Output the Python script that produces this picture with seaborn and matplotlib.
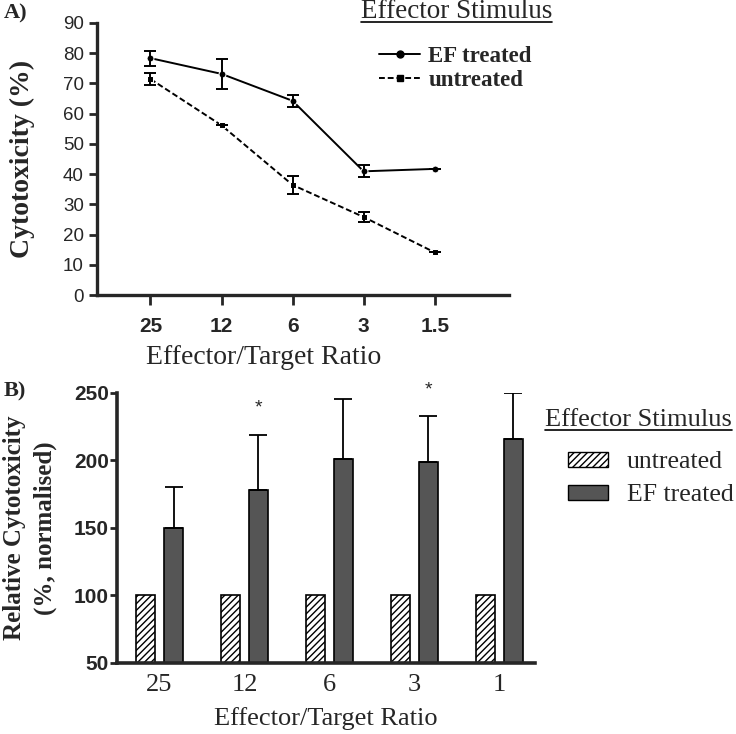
import numpy as np
import pandas as pd
import seaborn as sns
import matplotlib.pyplot as plt
from matplotlib.lines import Line2D
from matplotlib.patches import Patch

# Panel A data
ratios_a = ["25", "12", "6", "3", "1.5"]
ef_a = [78.3, 73.1, 64.2, 40.9, 41.7]
ef_a_err = [2.5, 5.0, 2.0, 2.0, 0.0]
un_a = [71.4, 56.1, 36.4, 25.8, 14.1]
un_a_err = [2.1, 0.0, 3.0, 1.7, 0.0]

# Panel B data
ratios_b = ["25", "12", "6", "3", "1"]
un_b = [100, 100, 100, 100, 100]
ef_b = [150, 178, 201, 199, 216]
ef_b_err = [30, 41, 44, 34, 34]
star_b = ["12", "3"]
star_y = [239, 252]

sns.set_style("ticks")
plt.rcParams["font.family"] = ["Liberation Sans", "DejaVu Sans"]
serif = "Liberation Serif"

fig = plt.figure(figsize=(7.36, 7.34), dpi=100)


def underlined(x, y, text, size):
    # title text with a rule under it, like the original figure
    t = fig.text(x, y, text, family=serif, fontsize=size, va="baseline")
    fig.canvas.draw()
    bb = t.get_window_extent().transformed(fig.transFigure.inverted())
    fig.add_artist(Line2D([bb.x0, bb.x1], [y - 0.005, y - 0.005], color="black", lw=1.2))


# ---------- Panel A ----------
axA = fig.add_axes([0.132, 0.598, 0.560, 0.371])
dfa = pd.DataFrame({
    "x": list(range(len(ratios_a))) * 2,
    "y": ef_a + un_a,
    "grp": ["EF treated"] * len(ef_a) + ["untreated"] * len(un_a),
})
sns.lineplot(data=dfa, x="x", y="y", hue="grp", style="grp",
             hue_order=["EF treated", "untreated"],
             palette={"EF treated": "black", "untreated": "black"},
             dashes={"EF treated": "", "untreated": (3, 1.5)},
             markers={"EF treated": "o", "untreated": "s"},
             markersize=5, linewidth=1.4, legend=False, ax=axA)
xs = np.arange(len(ratios_a))
axA.errorbar(xs, ef_a, yerr=ef_a_err, fmt="none", ecolor="black", elinewidth=1.4, capsize=4, capthick=1.4)
axA.errorbar(xs, un_a, yerr=un_a_err, fmt="none", ecolor="black", elinewidth=1.4, capsize=4, capthick=1.4)
axA.set_xlim(-0.75, 5.05)
axA.set_ylim(0, 90)
axA.set_yticks(range(0, 91, 10))
axA.set_xticks(xs)
axA.set_xticklabels(ratios_a, fontsize=15, fontweight="bold")
axA.tick_params(axis="y", labelsize=13.5, length=6, width=2)
axA.tick_params(axis="x", length=7, width=2, pad=9)
for s in ["left", "bottom"]:
    axA.spines[s].set_linewidth(2.4)
sns.despine(ax=axA)
axA.set_xlabel("Effector/Target Ratio", family=serif, fontsize=20)
axA.xaxis.set_label_coords(0.405, -0.182)
axA.set_ylabel("Cytotoxicity (%)", family=serif, fontsize=20, fontweight="bold", labelpad=20)

fig.text(0.005, 0.982, "A)", family=serif, fontsize=16, fontweight="bold", va="center")
underlined(0.490, 0.975, "Effector Stimulus", 19.5)
hA = [Line2D([], [], color="black", lw=1.4, marker="o", markersize=5),
      Line2D([], [], color="black", lw=1.4, ls=(0, (3, 1.5)), marker="s", markersize=5)]
fig.legend(hA, ["EF treated", "untreated"], loc="upper left", bbox_to_anchor=(0.515, 0.938),
           frameon=False, prop={"family": serif, "weight": "bold", "size": 16.5},
           handlelength=1.8, handletextpad=0.35, labelspacing=0.17, borderaxespad=0, borderpad=0)

# ---------- Panel B ----------
axB = fig.add_axes([0.159, 0.097, 0.568, 0.368])
dfb = pd.DataFrame({
    "ratio": ratios_b * 2,
    "val": un_b + ef_b,
    "grp": ["untreated"] * len(un_b) + ["EF treated"] * len(ef_b),
})
sns.barplot(data=dfb, x="ratio", y="val", hue="grp", order=ratios_b,
            hue_order=["untreated", "EF treated"],
            palette={"untreated": "white", "EF treated": "#555555"},
            width=0.66, gap=0.32, edgecolor="black", linewidth=1.2,
            legend=False, ax=axB)
for p in axB.containers[0]:
    p.set_hatch("/////")
ef_bars = axB.containers[1]
cx = [p.get_x() + p.get_width() / 2 for p in ef_bars]
axB.errorbar(cx, ef_b, yerr=[np.zeros(len(ef_b)), ef_b_err], fmt="none",
             ecolor="black", elinewidth=1.3, capsize=6.5, capthick=1.3)
for lab, yy in zip(star_b, star_y):
    i = ratios_b.index(lab)
    axB.text(cx[i], yy, "*", ha="center", va="center", fontsize=14, clip_on=False)
axB.set_xlim(-0.5, 4.42)
axB.set_ylim(50, 250)
axB.set_yticks([50, 100, 150, 200, 250])
axB.set_xticks(range(len(ratios_b)))
axB.set_xticklabels(ratios_b, family=serif, fontsize=19)
for t in axB.get_yticklabels():
    t.set_fontweight("bold")
axB.tick_params(axis="y", labelsize=15, length=5, width=2, pad=1)
axB.tick_params(axis="x", length=0, pad=8)
for s in ["left", "bottom"]:
    axB.spines[s].set_linewidth(2.6)
sns.despine(ax=axB)
axB.set_xlabel("Effector/Target Ratio", family=serif, fontsize=19, labelpad=8)
axB.set_ylabel("Relative Cytotoxicity\n(%, normalised)", family=serif, fontsize=18,
               fontweight="bold", labelpad=12, linespacing=1.45)

fig.text(0.005, 0.467, "B)", family=serif, fontsize=16, fontweight="bold", va="center")
underlined(0.741, 0.4196, "Effector Stimulus", 19)
hB = [Patch(facecolor="white", edgecolor="black", hatch="/////"),
      Patch(facecolor="#555555", edgecolor="black")]
fig.legend(hB, ["untreated", "EF treated"], loc="upper left", bbox_to_anchor=(0.772, 0.385),
           frameon=False, prop={"family": serif, "size": 18.5},
           handlelength=1.55, handleheight=0.5, handletextpad=0.72, labelspacing=0.43,
           borderaxespad=0, borderpad=0)

plt.savefig("out.png", dpi=100)
